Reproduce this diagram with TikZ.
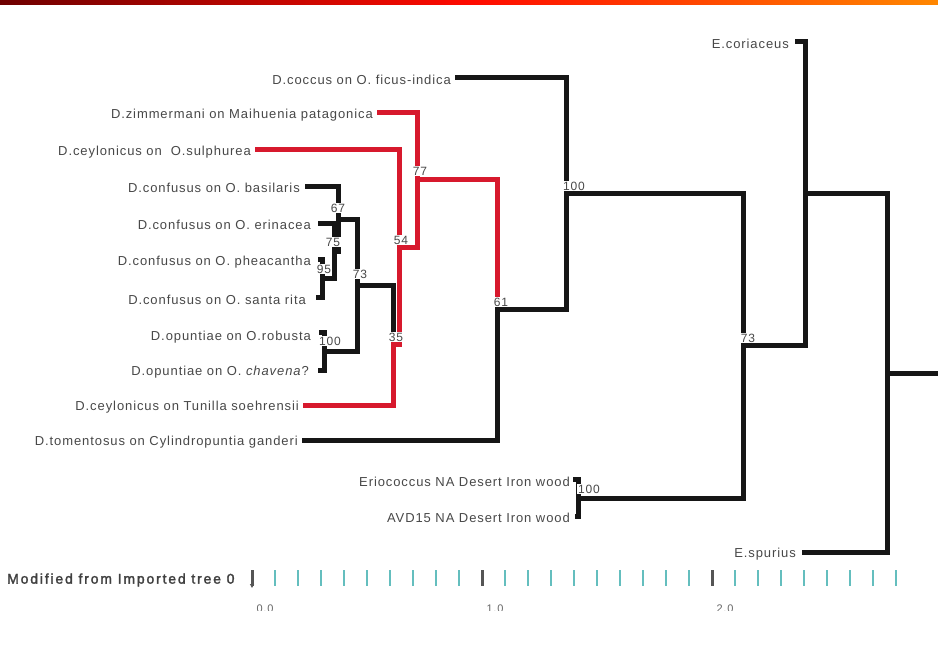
\documentclass[tikz,border=0pt]{standalone}
\usepackage{fontspec}
\setmainfont{Liberation Sans}
\newfontfamily\leaffont[LetterSpace=7]{Liberation Sans}
\newfontfamily\axfont[LetterSpace=13,FakeBold=2]{Liberation Sans}
\usetikzlibrary{arrows.meta}
\definecolor{brred}{RGB}{215,25,45}
\definecolor{brblack}{RGB}{22,22,22}
\definecolor{tealtick}{RGB}{100,190,190}
\definecolor{darktick}{RGB}{85,85,85}
\definecolor{labgray}{RGB}{72,72,72}
\definecolor{bardark}{RGB}{110,0,0}
\definecolor{barred}{RGB}{255,10,0}
\definecolor{barorange}{RGB}{255,135,0}
\begin{document}
\begin{tikzpicture}[x=1pt,y=-1pt,
  edge/.style={line width=5pt, draw=brblack, line cap=rect, line join=miter},
  redge/.style={edge, draw=brred},
  leaf/.style={anchor=east, inner sep=0pt, text=labgray, font=\leaffont\fontsize{13}{15}\selectfont},
  supp/.style={fill=white, inner sep=1pt, text=labgray, font=\leaffont\fontsize{12}{13}\selectfont},
  tick/.style={line width=2pt, draw=tealtick},
  majortick/.style={line width=3pt, draw=darktick}
]
\useasboundingbox (0,0) rectangle (938,655);
\fill[white] (0,0) rectangle (938,655);
% top gradient bar
\shade[left color=bardark, right color=barorange, middle color=barred] (0,0) rectangle (938,5);

% ---- leaf tips
\coordinate (coc) at (457,78);
\coordinate (zim) at (379,113);
\coordinate (sul) at (257,150);
\coordinate (bas) at (307,187);
\coordinate (eri) at (320,224);
\coordinate (phe) at (320,260);
\coordinate (san) at (318,298);
\coordinate (rob) at (321,333);
\coordinate (cha) at (320,370);
\coordinate (tun) at (305,405);
\coordinate (tom) at (304,440);
\coordinate (erc) at (575,479);
\coordinate (avd) at (577,516);
\coordinate (cor) at (797,42);
\coordinate (spu) at (804,552);
% ---- internal nodes
\coordinate (n95) at (322,279);
\coordinate (n75) at (334,252);
\coordinate (n67) at (338,220);
\coordinate (n100c) at (324,352);
\coordinate (n73i) at (357,286);
\coordinate (n35) at (393,345);
\coordinate (n54) at (399,248);
\coordinate (n77) at (417,180);
\coordinate (n61) at (497,310);
\coordinate (n100) at (566,194);
\coordinate (n100b) at (578,498);
\coordinate (n73) at (743,346);
\coordinate (n805) at (805,194);
\coordinate (root) at (887,373);
\coordinate (rootend) at (940,373);

% ---- edges
\draw[edge] (n95) |- (phe);
\draw[edge] (n95) |- (san);
\draw[edge] (n75) |- (eri);
\draw[edge] (n75) |- (n95);
\draw[edge] (n67) |- (bas);
\draw[edge] (n67) |- (n75);
\draw[edge] (n100c) |- (rob);
\draw[edge] (n100c) |- (cha);
\draw[edge] (n73i) |- (n67);
\draw[edge] (n73i) |- (n100c);
\draw[edge] (n35) |- (n73i);
\draw[redge] (n35) |- (tun);
\draw[redge] (n54) |- (n35);
\draw[redge] (n54) |- (sul);
\draw[redge] (n77) |- (zim);
\draw[redge] (n77) |- (n54);
\draw[redge] (n61) |- (n77);
\draw[edge] (n61) |- (tom);
\draw[edge] (n100) |- (coc);
\draw[edge] (n100) |- (n61);
\draw[edge] (n100b) |- (erc);
\draw[edge] (n100b) |- (avd);
\draw[edge] (n73) |- (n100);
\draw[edge] (n73) |- (n100b);
\draw[edge] (n805) |- (cor);
\draw[edge] (n805) |- (n73);
\draw[edge] (root) |- (n805);
\draw[edge] (root) |- (spu);
\draw[edge] (root) -- (rootend);

% ---- leaf labels
\node[leaf] (lcoc) at (451,80) {D.coccus on O. ficus-indica};
\node[leaf] (lzim) at (373,115) {D.zimmermani on Maihuenia patagonica};
\node[leaf] (lsul) at (251,152) {D.ceylonicus on\ \ O.sulphurea};
\node[leaf] (lbas) at (300,188) {D.confusus on O. basilaris};
\node[leaf] (leri) at (311,225) {D.confusus on O. erinacea};
\node[leaf] (lphe) at (311,262) {D.confusus on O. pheacantha};
\node[leaf] (lsan) at (306,300) {D.confusus on O. santa rita};
\node[leaf] (lrob) at (311,337) {D.opuntiae on O.robusta};
\node[leaf] (lcha) at (309,372) {D.opuntiae on O. \textit{chavena}?};
\node[leaf] (ltun) at (299,407) {D.ceylonicus on Tunilla soehrensii};
\node[leaf] (ltom) at (298,442) {D.tomentosus on Cylindropuntia ganderi};
\node[leaf] (lerc) at (570,482) {Eriococcus NA Desert Iron wood};
\node[leaf] (lavd) at (570,518) {AVD15 NA Desert Iron wood};
\node[leaf] (lcor) at (789,44) {E.coriaceus};
\node[leaf] (lspu) at (796,554) {E.spurius};

% ---- support values
\node[supp] (s67) at (338,208) {67};
\node[supp] (s75) at (333,242) {75};
\node[supp] (s95) at (324,269) {95};
\node[supp] (s100c) at (330,341) {100};
\node[supp] (s73i) at (360,274) {73};
\node[supp] (s35) at (396,337) {35};
\node[supp] (s54) at (401,240) {54};
\node[supp] (s77) at (420,171) {77};
\node[supp] (s61) at (501,302) {61};
\node[supp] (s100) at (574,186) {100};
\node[supp] (s100b) at (589,489) {100};
\node[supp] (s73) at (748,338) {73};

% ---- scale
\node[anchor=west, inner sep=0pt, text=black!75, font=\axfont\fontsize{14}{16}\selectfont] (axlab) at (7,580) {Modified from Imported tree 0};
\foreach \k in {1,...,9,11,12,...,19,21,22,...,28} {
  \draw[tick] (252+23*\k,570) -- (252+23*\k,586);
}
\foreach \k in {0,10,20} {
  \draw[majortick] (252+23*\k,570) -- (252+23*\k,586);
}
\draw[darktick, line width=1pt, -{Triangle[length=4pt,width=4pt]}] (252,576) -- (252,588);
\begin{scope}
  \clip (240,600) rectangle (760,610);
  \node[anchor=north, inner sep=0pt, text=black!60, font=\leaffont\fontsize{11}{12}\selectfont] (t0) at (265,605) {0.0};
  \node[anchor=north, inner sep=0pt, text=black!60, font=\leaffont\fontsize{11}{12}\selectfont] (t1) at (495,605) {1.0};
  \node[anchor=north, inner sep=0pt, text=black!60, font=\leaffont\fontsize{11}{12}\selectfont] (t2) at (725,605) {2.0};
\end{scope}
\end{tikzpicture}
\end{document}
